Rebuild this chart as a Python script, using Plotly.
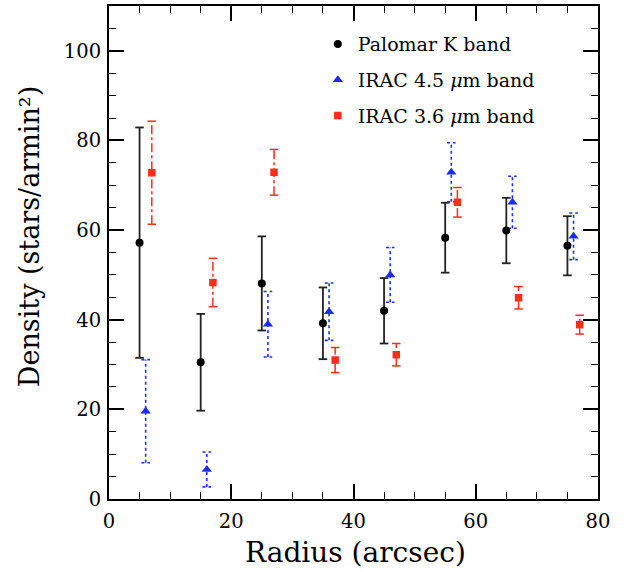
import plotly.graph_objects as go

# ---- data ----
radius = [5, 15, 25, 35, 45, 55, 65, 75]

k_x = [5, 15, 25, 35, 45, 55, 65, 75]
k_y = [57.2, 30.5, 48.1, 39.2, 42.0, 58.3, 59.9, 56.5]
k_err = [25.7, 10.8, 10.5, 8.0, 7.3, 7.8, 7.3, 6.6]

i45_x = [6, 16, 26, 36, 46, 56, 66, 76]
i45_y = [19.6, 6.6, 39.0, 41.8, 50.0, 72.9, 66.2, 58.6]
i45_err = [11.5, 3.9, 7.3, 6.4, 6.1, 6.6, 5.8, 5.2]

i36_x = [7, 17, 27, 37, 47, 57, 67, 77]
i36_y = [72.8, 48.3, 72.9, 31.0, 32.2, 66.2, 44.9, 38.9]
i36_err = [11.5, 5.4, 5.1, 2.8, 2.5, 3.3, 2.5, 2.1]

x_ticks = [0, 20, 40, 60, 80]
y_ticks = [0, 20, 40, 60, 80, 100]

BLACK = "#000000"
BLUE = "#1a2cff"
RED = "#ff2e1c"
FONT = "DejaVu Serif"
CAP = 0.7


def err_segments(xs, ys, es):
    X, Y = [], []
    for x, y, e in zip(xs, ys, es):
        lo, hi = y - e, y + e
        X += [x, x, None, x - CAP, x + CAP, None, x - CAP, x + CAP, None]
        Y += [lo, hi, None, hi, hi, None, lo, lo, None]
    return X, Y


fig = go.Figure()

for xs, ys, es, col, dash, w in [
    (k_x, k_y, k_err, "#222222", "solid", 1.8),
    (i45_x, i45_y, i45_err, BLUE, "dot", 1.6),
    (i36_x, i36_y, i36_err, RED, "dashdot", 1.5),
]:
    ex, ey = err_segments(xs, ys, es)
    fig.add_trace(go.Scatter(x=ex, y=ey, mode="lines",
                             line=dict(color=col, width=w, dash=dash),
                             showlegend=False, hoverinfo="skip"))

fig.add_trace(go.Scatter(x=k_x, y=k_y, mode="markers", name="Palomar K band",
                         legendgroup="a",
                         marker=dict(symbol="circle", size=8, color=BLACK)))
fig.add_trace(go.Scatter(x=i45_x, y=i45_y, mode="markers",
                         name="IRAC 4.5 <i>μ</i>m band", legendgroup="b",
                         marker=dict(symbol="triangle-up", size=9, color=BLUE)))
fig.add_trace(go.Scatter(x=i36_x, y=i36_y, mode="markers",
                         name="IRAC 3.6 <i>μ</i>m band", legendgroup="c",
                         marker=dict(symbol="square", size=7.5, color=RED)))

axis_common = dict(
    showline=True, linecolor="black", linewidth=2, mirror="allticks",
    ticks="inside", ticklen=15, tickwidth=1.5, tickcolor="black",
    showgrid=False, zeroline=False,
    tickfont=dict(family=FONT, size=19.5, color="black"),
    minor=dict(dtick=5, ticks="inside", ticklen=7, tickwidth=1.2,
               tickcolor="black", showgrid=False),
)

fig.update_xaxes(range=[0, 80], tickvals=x_ticks, ticklabelstandoff=4,
                 **axis_common)
fig.update_yaxes(range=[0, 110], tickvals=y_ticks, ticklabelstandoff=2,
                 **axis_common)

fig.add_annotation(text="Radius (arcsec)", xref="paper", yref="paper",
                   x=0.505, y=0, yshift=-53, xanchor="center", yanchor="middle",
                   showarrow=False,
                   font=dict(family=FONT, size=28, color="black"))
fig.add_annotation(text="Density (stars/armin²)", xref="paper", yref="paper",
                   x=0, xshift=-80, y=0.531, xanchor="center", yanchor="middle",
                   textangle=-90, showarrow=False,
                   font=dict(family=FONT, size=27, color="black"))

fig.update_layout(
    width=634, height=572,
    margin=dict(l=109, r=36, t=4, b=73),
    plot_bgcolor="white", paper_bgcolor="white",
    font=dict(family=FONT, color="black"),
    legend=dict(x=0.427, y=0.961, xanchor="left", yanchor="top",
                font=dict(family=FONT, size=19, color="black"),
                bgcolor="rgba(0,0,0,0)", tracegroupgap=8),
)

fig.write_html("out.html")
